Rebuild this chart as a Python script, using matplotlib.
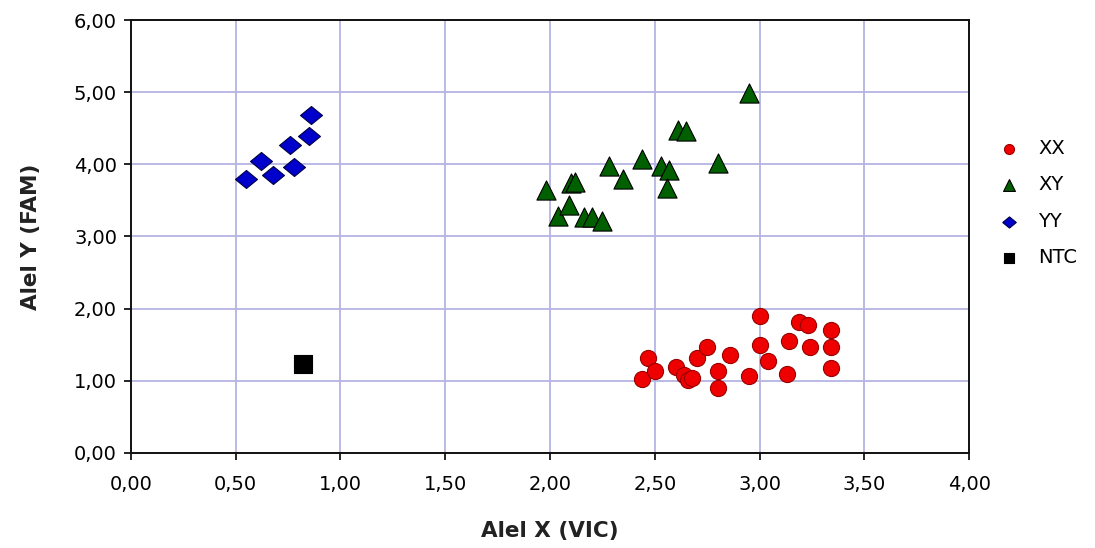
import numpy as np
import matplotlib
matplotlib.use("Agg")
import matplotlib.pyplot as plt
from matplotlib.ticker import FuncFormatter

# genotype clusters
xx_x = [2.44, 2.47, 2.50, 2.60, 2.64, 2.66, 2.68, 2.70, 2.75, 2.80, 2.80, 2.86,
        2.95, 3.00, 3.00, 3.04, 3.13, 3.14, 3.19, 3.23, 3.24, 3.34, 3.34, 3.34]
xx_y = [1.03, 1.31, 1.13, 1.19, 1.08, 1.01, 1.04, 1.31, 1.47, 1.13, 0.90, 1.36,
        1.06, 1.90, 1.49, 1.28, 1.09, 1.55, 1.81, 1.77, 1.47, 1.71, 1.47, 1.18]

xy_x = [1.98, 2.04, 2.09, 2.10, 2.12, 2.16, 2.20, 2.25, 2.28, 2.35, 2.44,
        2.53, 2.57, 2.56, 2.61, 2.65, 2.80, 2.95]
xy_y = [3.65, 3.28, 3.43, 3.74, 3.75, 3.27, 3.27, 3.22, 3.97, 3.80, 4.08,
        3.98, 3.92, 3.67, 4.48, 4.46, 4.02, 4.99]

yy_x = [0.55, 0.62, 0.68, 0.76, 0.78, 0.85, 0.86]
yy_y = [3.80, 4.05, 3.85, 4.27, 3.96, 4.39, 4.68]

ntc_x = [0.82]
ntc_y = [1.23]

# wide diamond like the Excel marker
diamond = [(-1, 0), (0, 0.82), (1, 0), (0, -0.82), (-1, 0)]

fig = plt.figure(figsize=(10.95, 5.48), dpi=100)
ax = fig.add_axes([0.1196, 0.1734, 0.7654, 0.7901])

ax.scatter(xx_x, xx_y, s=135, marker="o", c="#ee0000", edgecolors="#990000",
           linewidths=0.8, label="XX", zorder=3)
ax.scatter(xy_x, xy_y, s=190, marker="^", c="#006000", edgecolors="black",
           linewidths=0.8, label="XY", zorder=3)
ax.scatter(yy_x, yy_y, s=250, marker=diamond, c="#0000cc", edgecolors="#000044",
           linewidths=0.8, label="YY", zorder=3)
ax.scatter(ntc_x, ntc_y, s=150, marker="s", c="black", edgecolors="black",
           linewidths=0.8, label="NTC", zorder=3)

ax.set_xlim(0, 4)
ax.set_ylim(0, 6)
ax.set_xticks(np.arange(0, 4.01, 0.5))
ax.set_yticks(np.arange(0, 6.01, 1))
fmt = FuncFormatter(lambda v, p: f"{v:.2f}".replace(".", ","))
ax.xaxis.set_major_formatter(fmt)
ax.yaxis.set_major_formatter(fmt)
ax.tick_params(labelsize=14, length=5, width=1.2, colors="black", pad=5)
ax.tick_params(axis="x", pad=11)

ax.grid(True, color="#b4b4e4", linewidth=1.3, zorder=0)
ax.set_axisbelow(True)
for sp in ax.spines.values():
    sp.set_linewidth(1.4)
    sp.set_color("#111111")

ax.set_xlabel("Alel X (VIC)", fontsize=15.5, fontweight="bold", color="#222222",
              labelpad=19)
ax.set_ylabel("Alel Y (FAM)", fontsize=15.5, fontweight="bold", color="#222222",
              labelpad=24)

ax.legend(loc="upper left", bbox_to_anchor=(0.895, 0.779),
          bbox_transform=fig.transFigure, frameon=False, fontsize=14,
          labelspacing=0.9, handletextpad=0.9, handlelength=1.2,
          markerscale=0.62, scatterpoints=1)

fig.savefig("out.png", dpi=100)
